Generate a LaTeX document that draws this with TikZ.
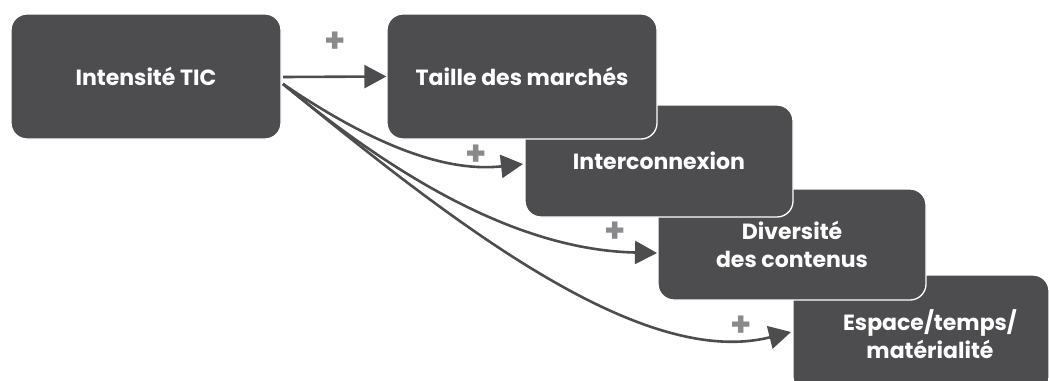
\documentclass[tikz,border=0pt]{standalone}
\usepackage{fontspec}
\setmainfont{Poppins}
\usetikzlibrary{arrows.meta}
\definecolor{boxgray}{HTML}{4D4D4F}
\definecolor{plusgray}{HTML}{8A8A8D}
\tikzset{
  boxfont/.style={font=\bfseries\fontsize{22}{28}\selectfont},
  stepbox/.style={fill=boxgray, draw=white, line width=1.3pt, rounded corners=16pt,
    text=white, boxfont, align=center, inner sep=0pt},
  conn/.style={draw=boxgray, line width=2.6pt, -{Triangle[length=22pt,width=23pt]}},
  plus/.style={text=plusgray, font=\bfseries\fontsize{34}{34}\selectfont, inner sep=0pt}
}
\begin{document}
\begin{tikzpicture}[x=1pt,y=-1pt]
\useasboundingbox (0,0) rectangle (1049,380);
\clip (0,0) rectangle (1049,380);
% boxes drawn back to front
\node[stepbox, minimum width=256pt, minimum height=118pt] (e) at (921,334) {};
\node[text=white, boxfont, align=center, inner sep=0pt] (et) at (930,334) {Espace/temps/\\matérialité};
\node[stepbox, minimum width=268pt, minimum height=111pt] (d) at (792,244.5) {Diversité\\des contenus};
\node[stepbox, minimum width=268pt, minimum height=112pt] (c) at (659,161) {Interconnexion};
\node[stepbox, minimum width=270pt, minimum height=125pt] (b) at (522,76.5) {Taille des marchés};
\node[stepbox, minimum width=270pt, minimum height=125pt] (a) at (146,76.5) {Intensité TIC};
% connector anchors
\coordinate (s1) at (283,77);
\coordinate (s2) at (283,84);
\coordinate (t2) at (523,164);
\coordinate (t3) at (657,253);
\coordinate (t4) at (791,332);
\draw[conn] (s1) -- (b.west);
\draw[conn] (s2) .. controls (380,150) and (450,172) .. (t2);
\draw[conn] (s2) .. controls (400,180) and (520,250) .. (t3);
\draw[conn] (s2) .. controls (450,220) and (640,370) .. (t4);
% plus signs
\node[plus] (p1) at (335,42) {+};
\node[plus] (p2) at (476,155) {+};
\node[plus] (p3) at (615,232) {+};
\node[plus] (p4) at (741,326) {+};
\end{tikzpicture}
\end{document}
